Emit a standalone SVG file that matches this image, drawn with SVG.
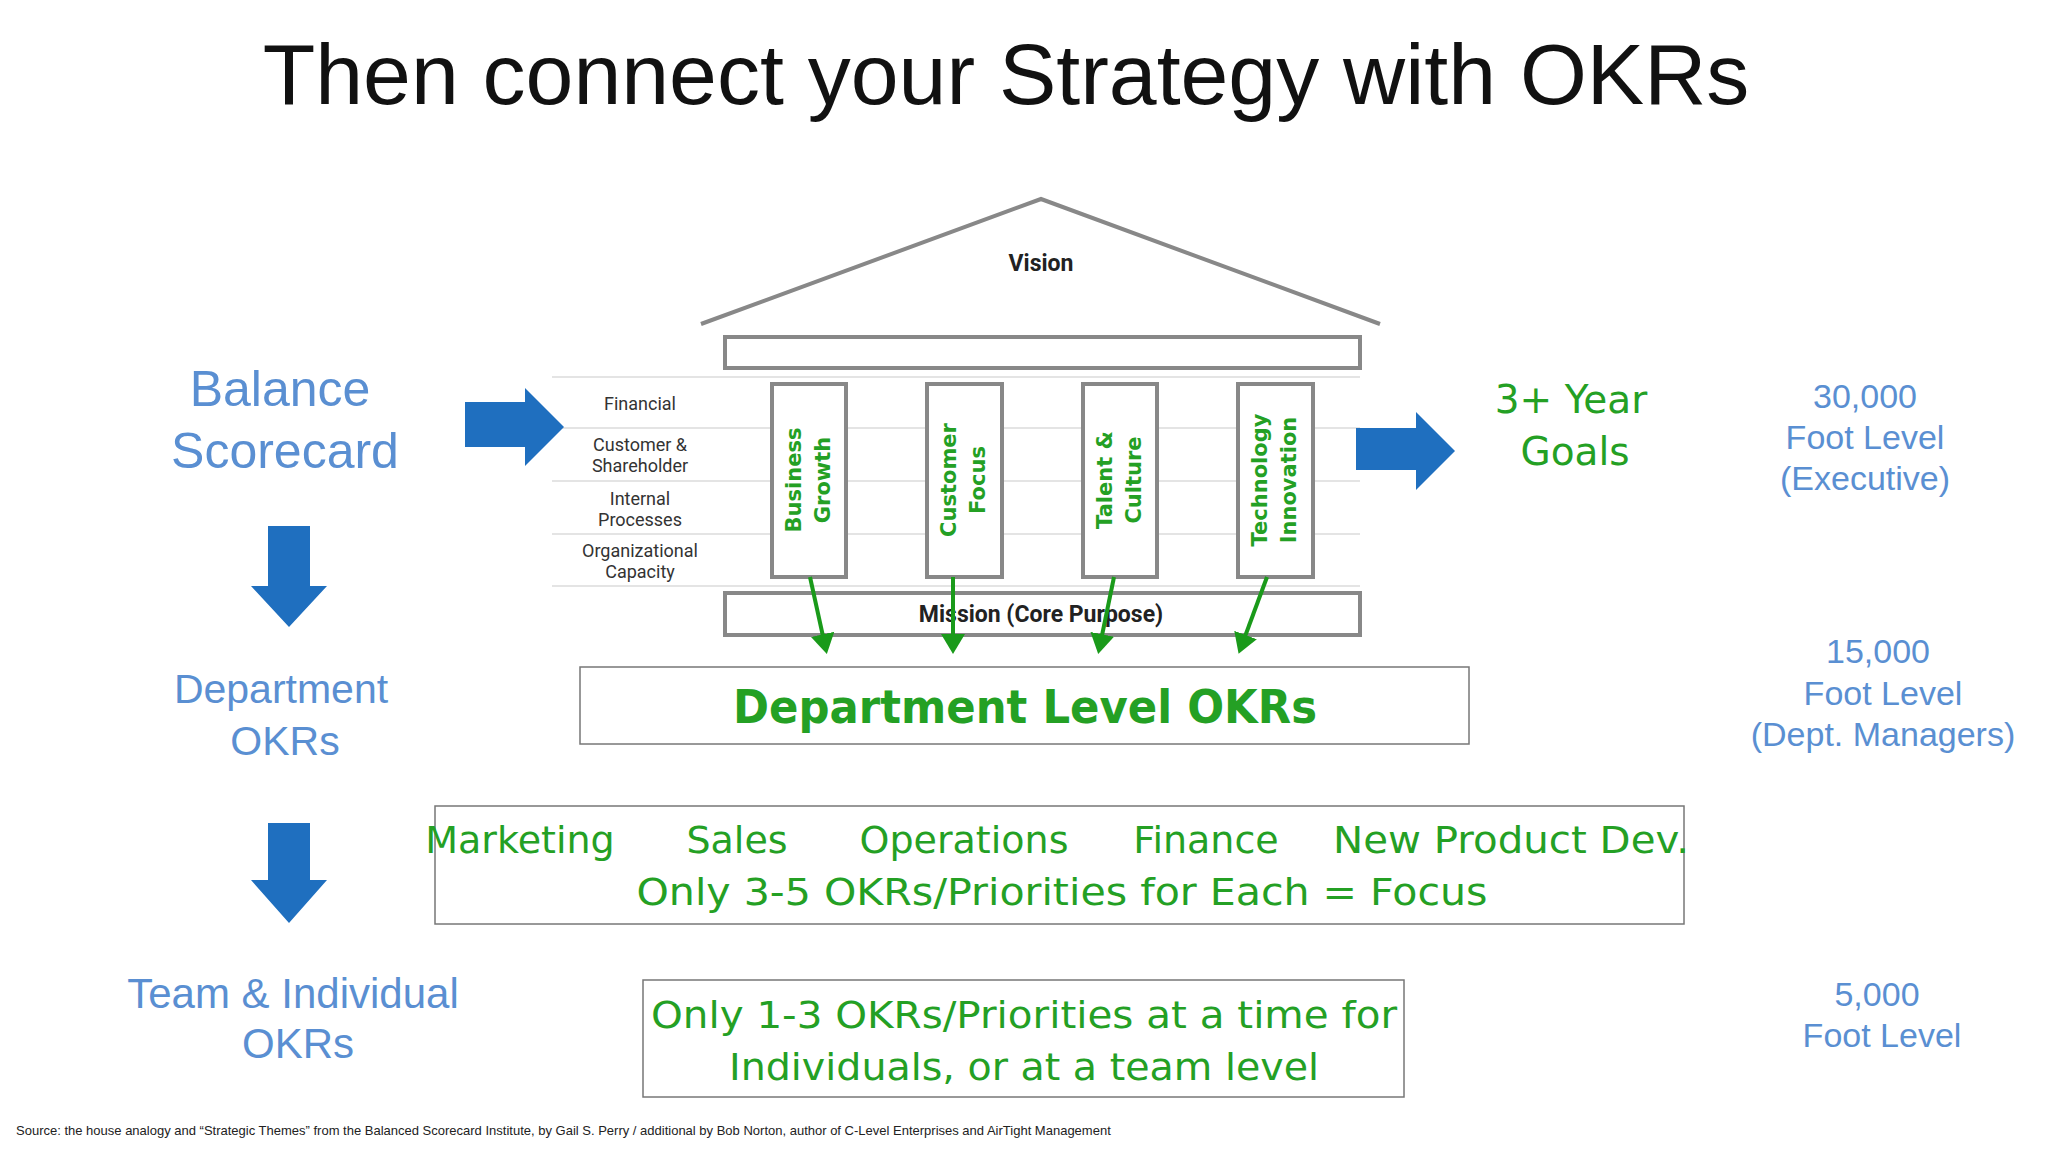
<svg xmlns="http://www.w3.org/2000/svg" width="2048" height="1152" viewBox="0 0 2048 1152">
<style>
.s{font-family:"Liberation Sans",Arial,sans-serif}
.g{fill:#24a024;font-family:"DejaVu Sans","Liberation Sans",sans-serif}
.b{fill:#5a8fd2;font-family:"Liberation Sans",Arial,sans-serif;text-anchor:middle}
.lab{font-family:"Roboto","Liberation Sans",sans-serif;font-size:18px;fill:#333;text-anchor:middle}
.col{fill:#fff;stroke:#888;stroke-width:4}
.ln{stroke:#e4e4e4;stroke-width:2}
.box{fill:#fff;stroke:#777;stroke-width:1.5}
.ar{fill:#1f6fbf}
.gr{stroke:#1a9a1a;stroke-width:4;fill:none;marker-end:url(#gh)}
</style>
<defs><marker id="gh" markerWidth="6" markerHeight="6" refX="4" refY="3" orient="auto" markerUnits="strokeWidth"><path d="M0,0 L5,3 L0,6 z" fill="#1a9a1a"/></marker></defs>
<rect width="2048" height="1152" fill="#fff"/>
<text x="1006" y="104" class="s" font-size="86" text-anchor="middle" fill="#111">Then connect your Strategy with OKRs</text>
<g id="house">
<polyline points="701,324 1041,199 1380,324" fill="none" stroke="#888" stroke-width="4"/>
<text x="1041" y="271" font-family="Roboto,Liberation Sans,sans-serif" font-weight="bold" font-size="23" text-anchor="middle" fill="#222">Vision</text>
<rect x="725" y="337" width="635" height="31" class="col"/>
<line x1="552" y1="377" x2="1360" y2="377" class="ln"/>
<line x1="552" y1="428" x2="1360" y2="428" class="ln"/>
<line x1="552" y1="481" x2="1360" y2="481" class="ln"/>
<line x1="552" y1="534" x2="1360" y2="534" class="ln"/>
<line x1="552" y1="586" x2="1360" y2="586" class="ln"/>
<text x="640" y="410" class="lab">Financial</text>
<text x="640" y="451" class="lab">Customer &amp;</text><text x="640" y="472" class="lab">Shareholder</text>
<text x="640" y="505" class="lab">Internal</text><text x="640" y="526" class="lab">Processes</text>
<text x="640" y="557" class="lab">Organizational</text><text x="640" y="578" class="lab">Capacity</text>
<rect x="725" y="593" width="635" height="42" class="col"/>
<text x="1041" y="622" font-family="Roboto,Liberation Sans,sans-serif" font-weight="bold" font-size="23" text-anchor="middle" fill="#222">Mission (Core Purpose)</text>
</g>
<g id="pillars" font-weight="bold" font-size="21" class="g" text-anchor="middle">
<rect x="772" y="384" width="74" height="193" class="col"/>
<rect x="927" y="384" width="75" height="193" class="col"/>
<rect x="1083" y="384" width="74" height="193" class="col"/>
<rect x="1238" y="384" width="75" height="193" class="col"/>
<text transform="translate(801,480) rotate(-90)">Business</text><text transform="translate(830,480) rotate(-90)">Growth</text>
<text transform="translate(956,480) rotate(-90)">Customer</text><text transform="translate(985,480) rotate(-90)">Focus</text>
<text transform="translate(1112,480) rotate(-90)">Talent &amp;</text><text transform="translate(1141,480) rotate(-90)">Culture</text>
<text transform="translate(1267,480) rotate(-90)">Technology</text><text transform="translate(1296,480) rotate(-90)">Innovation</text>
</g>
<g id="connectors">
<line x1="810" y1="577" x2="826" y2="650" class="gr"/>
<line x1="953" y1="577" x2="953" y2="650" class="gr"/>
<line x1="1114" y1="577" x2="1099" y2="650" class="gr"/>
<line x1="1267" y1="577" x2="1240" y2="650" class="gr"/>
<polygon points="465,402 525,402 525,388 564,427 525,466 525,447 465,447" class="ar"/>
<polygon points="1356,428 1416,428 1416,412 1455,451 1416,490 1416,470 1356,470" class="ar"/>
<polygon points="268,526 310,526 310,586 327,586 289,627 251,586 268,586" class="ar"/>
<polygon points="268,823 310,823 310,880 327,880 289,923 251,880 268,880" class="ar"/>
</g>
<g id="left">
<text x="280" y="406" class="b" font-size="50">Balance</text>
<text x="285" y="468" class="b" font-size="50">Scorecard</text>
<text x="281" y="703" class="b" font-size="41">Department</text>
<text x="285" y="755" class="b" font-size="41">OKRs</text>
<text x="293" y="1008" class="b" font-size="42">Team &amp; Individual</text>
<text x="298" y="1058" class="b" font-size="42">OKRs</text>
</g>
<g id="goals"><text x="1571" y="413" class="g" font-size="39" text-anchor="middle">3+ Year</text><text x="1575" y="465" class="g" font-size="39" text-anchor="middle">Goals</text></g>
<g id="levels" font-size="34">
<text x="1865" y="408" class="b">30,000</text><text x="1865" y="449" class="b">Foot Level</text><text x="1865" y="490" class="b">(Executive)</text>
<text x="1878" y="663" class="b">15,000</text><text x="1883" y="705" class="b">Foot Level</text><text x="1883" y="746" class="b">(Dept. Managers)</text>
<text x="1877" y="1006" class="b">5,000</text><text x="1882" y="1047" class="b">Foot Level</text>
</g>
<g id="dept"><rect x="580" y="667" width="889" height="77" class="box"/>
<text x="1025" y="723" class="g" font-weight="bold" font-size="46" text-anchor="middle" textLength="584" lengthAdjust="spacingAndGlyphs">Department Level OKRs</text></g>
<g id="functions"><rect x="435" y="806" width="1249" height="118" class="box"/>
<g class="g" font-size="38" text-anchor="middle">
<text x="520" y="853">Marketing</text><text x="737" y="853">Sales</text><text x="964" y="853">Operations</text><text x="1206" y="853">Finance</text><text x="1511" y="853" textLength="356" lengthAdjust="spacingAndGlyphs">New Product Dev.</text>
<text x="1062" y="905" textLength="851" lengthAdjust="spacingAndGlyphs">Only 3-5 OKRs/Priorities for Each = Focus</text></g></g>
<g id="individual"><rect x="643" y="980" width="761" height="117" class="box"/>
<g class="g" font-size="38" text-anchor="middle"><text x="1024" y="1028" textLength="746" lengthAdjust="spacingAndGlyphs">Only 1-3 OKRs/Priorities at a time for</text><text x="1024" y="1080" textLength="590" lengthAdjust="spacingAndGlyphs">Individuals, or at a team level</text></g></g>
<text x="16" y="1135" class="s" font-size="13" fill="#222">Source: the house analogy and “Strategic Themes” from the Balanced Scorecard Institute, by Gail S. Perry / additional by Bob Norton, author of C-Level Enterprises and AirTight Management</text>
</svg>
